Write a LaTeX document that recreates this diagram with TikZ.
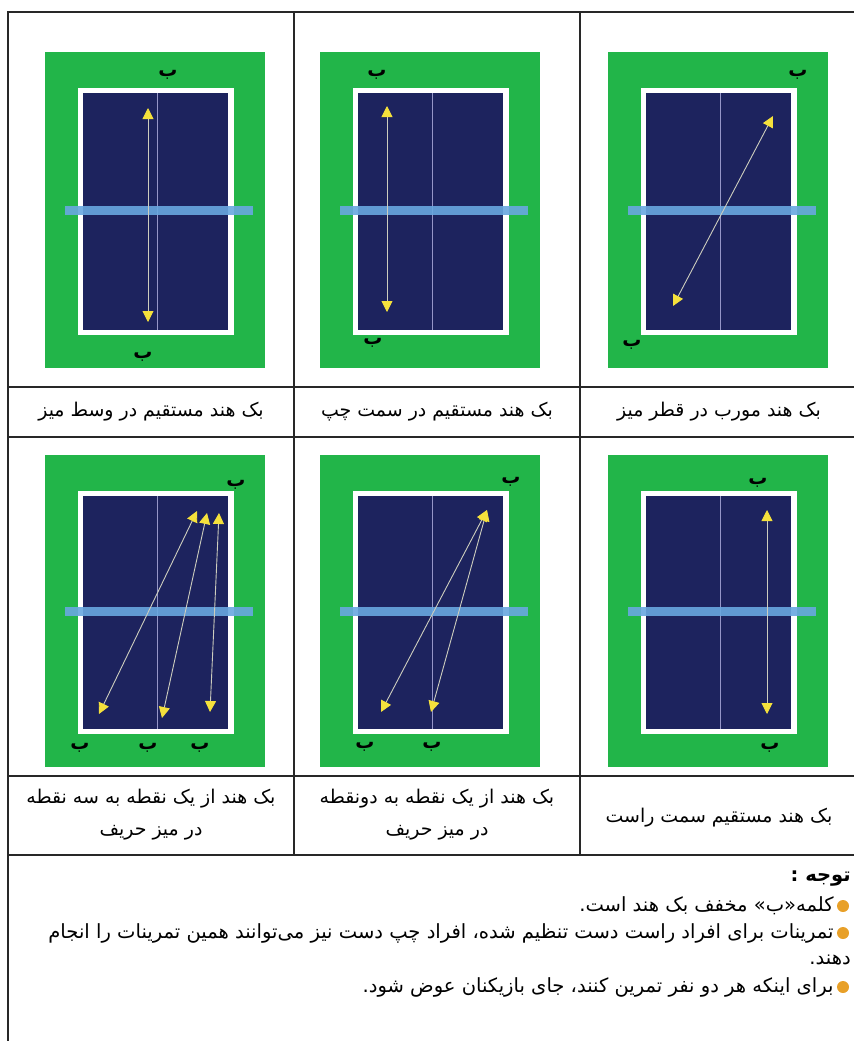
\documentclass[tikz,border=0pt]{standalone}
\usepackage{fontspec}
\TeXXeTstate=1
\newfontfamily\farsi[Script=Arabic]{DejaVu Sans}
\usetikzlibrary{arrows.meta, positioning}

\definecolor{courtgreen}{RGB}{34,181,73}
\definecolor{tablenavy}{RGB}{29,35,94}
\definecolor{netblue}{RGB}{105,168,224}
\definecolor{midline}{RGB}{150,150,200}
\definecolor{ballpath}{RGB}{205,205,190}
\definecolor{tipyellow}{RGB}{245,225,60}
\definecolor{bulletorange}{RGB}{232,160,40}
\definecolor{rulegray}{RGB}{40,40,40}

\begin{document}
\begin{tikzpicture}[x=1bp, y=-1bp,
        grid/.style={draw=rulegray, line width=1.5bp},
        caption/.style={font=\farsi\fontsize{19}{32}\selectfont, align=center, inner sep=0pt},
        bmark/.style={font=\farsi\bfseries\fontsize{19}{19}\selectfont, inner sep=0pt},
        shot/.style={draw=ballpath, line width=0.9bp,
            {Triangle[length=11bp, width=11bp, color=tipyellow]}-{Triangle[length=11bp, width=11bp, color=tipyellow]}},
        note/.style={font=\farsi\fontsize{19.6}{24}\selectfont, anchor=east, inner sep=0pt},
        dot/.style={circle, fill=bulletorange, minimum size=12bp, inner sep=0pt}
    ]
        \useasboundingbox (0,0) rectangle (854,1041);

        % === Courts ===
        \foreach \gx/\gy/\gh in {45/52/316, 320/52/316, 608/52/316, 45/455/312, 320/455/312, 608/455/312} {
            \fill[courtgreen] (\gx,\gy) rectangle ++(220,\gh);
            \fill[white] (\gx+33,\gy+36) rectangle (\gx+189,\gy+\gh-33);
            \fill[tablenavy] (\gx+38,\gy+41) rectangle (\gx+183,\gy+\gh-38);
            \draw[midline, line width=1bp] (\gx+112,\gy+41) -- (\gx+112,\gy+\gh-38);
            \fill[netblue, opacity=0.9] (\gx+20,\gy+\gh/2-4.5) rectangle ++(188,9);
        }

        % === Table rules ===
        \draw[grid] (854,12) -- (8,12) -- (8,1041);
        \draw[grid] (8,387) -- (854,387);
        \draw[grid] (8,437) -- (854,437);
        \draw[grid] (8,776) -- (854,776);
        \draw[grid] (8,855) -- (854,855);
        \draw[grid] (294,12) -- (294,855);
        \draw[grid] (580,12) -- (580,855);

        % === Row 1 ===
        \node[bmark] (b1a) at (168,75) {ب};
        \node[bmark] (b1b) at (143,357) {ب};
        \coordinate (s1a) at (148,108);
        \coordinate (s1b) at (148,322);
        \draw[shot] (s1a) -- (s1b);

        \node[bmark] (b2a) at (377,75) {ب};
        \node[bmark] (b2b) at (373,343) {ب};
        \coordinate (s2a) at (387,106);
        \coordinate (s2b) at (387,312);
        \draw[shot] (s2a) -- (s2b);

        \node[bmark] (b3a) at (798,75) {ب};
        \node[bmark] (b3b) at (632,345) {ب};
        \coordinate (s3a) at (773,116);
        \coordinate (s3b) at (673,306);
        \draw[shot] (s3a) -- (s3b);

        \node[caption] (cap1) at (151,412) {\beginR بک هند مستقیم در وسط میز\endR};
        \node[caption] (cap2) at (437,412) {\beginR بک هند مستقیم در  سمت چپ\endR};
        \node[caption] (cap3) at (719,412) {\beginR بک هند مورب در قطر میز\endR};

        % === Row 2 ===
        \node[bmark] (b4a) at (236,485) {ب};
        \node[bmark] (b4b) at (80,748) {ب};
        \node[bmark] (b4c) at (148,748) {ب};
        \node[bmark] (b4d) at (200,748) {ب};
        \coordinate (s4a) at (197,511);
        \coordinate (s4b) at (207,513);
        \coordinate (s4c) at (219,513);
        \coordinate (s4d) at (99,714);
        \coordinate (s4e) at (162,718);
        \coordinate (s4f) at (210,712);
        \draw[shot] (s4a) -- (s4d);
        \draw[shot] (s4b) -- (s4e);
        \draw[shot] (s4c) -- (s4f);

        \node[bmark] (b5a) at (511,482) {ب};
        \node[bmark] (b5b) at (365,747) {ب};
        \node[bmark] (b5c) at (432,747) {ب};
        \coordinate (s5a) at (487,510);
        \coordinate (s5b) at (381,712);
        \coordinate (s5c) at (431,712);
        \draw[shot] (s5a) -- (s5b);
        \draw[shot] (s5a) -- (s5c);

        \node[bmark] (b6a) at (758,483) {ب};
        \node[bmark] (b6b) at (770,748) {ب};
        \coordinate (s6a) at (767,510);
        \coordinate (s6b) at (767,714);
        \draw[shot] (s6a) -- (s6b);

        \node[caption] (cap4) at (151,815) {\beginR بک هند از یک نقطه به سه نقطه\endR\\\beginR در میز حریف\endR};
        \node[caption] (cap5) at (437,815) {\beginR بک هند از یک نقطه به دونقطه\endR\\\beginR در میز حریف\endR};
        \node[caption] (cap6) at (719,818) {\beginR بک هند مستقیم  سمت راست\endR};

        % === Notes ===
        \node[note, font=\farsi\bfseries\fontsize{19.6}{24}\selectfont] (head) at (851,879) {\beginR توجه :\endR};
        \node[dot] (d1) at (843,906) {};
        \node[note, left=3bp of d1] (n1) {\beginR کلمه«ب» مخفف بک هند است.\endR};
        \node[dot] (d2) at (843,933) {};
        \node[note, left=3bp of d2] (n2) {\beginR تمرینات برای افراد راست دست تنظیم شده، افراد چپ دست نیز می‌توانند همین تمرینات را انجام\endR};
        \node[note] (n2b) at (851,960) {\beginR دهند.\endR};
        \node[dot] (d3) at (843,987) {};
        \node[note, left=3bp of d3] (n3) {\beginR برای اینکه هر دو نفر تمرین کنند، جای بازیکنان  عوض شود.\endR};
    \end{tikzpicture}
\end{document}
